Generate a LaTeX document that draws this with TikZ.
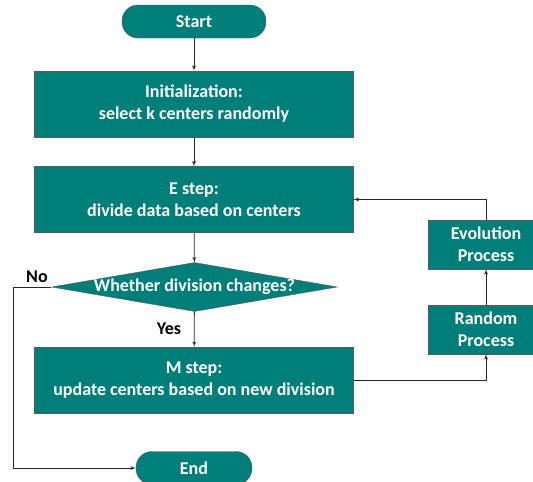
\documentclass[tikz,border=0pt]{standalone}
\usepackage{fontspec}
\setmainfont{Carlito}
\usepackage{tikz}
\usetikzlibrary{arrows, shapes.geometric, positioning}
\definecolor{flowteal}{HTML}{007F7A}

\begin{document}
\begin{tikzpicture}[x=1pt,y=-1pt,inner sep=0pt,>=latex',
  every node/.style={font=\bfseries\fontsize{18}{22}\selectfont},
  box/.style={draw=black!65,fill=flowteal,text=white,align=center,minimum width=319pt,minimum height=66pt},
  side/.style={box,minimum width=116pt,minimum height=49pt},
  term/.style={box,rounded corners=16pt,minimum height=33pt},
  cond/.style={draw=black!65,fill=flowteal,text=white,diamond,aspect=5.8,inner ysep=-3pt,minimum width=286pt,minimum height=49pt},
  line/.style={draw=black!85,line width=.8pt}]
\useasboundingbox (0,0) rectangle (533,482);
\draw node [term,minimum width=144pt] (start) at (194,21.5) {Start};
\draw node [box] (init) at (194,104) {Initialization:\\select k centers randomly};
\draw node [box] (estep) at (194,199.5) {E step:\\divide data based on centers};
\draw node [cond] (chg) at (194.5,287) {Whether division changes?};
\draw node [box] (mstep) at (194,380) {M step:\\update centers based on new division};
\draw node [term,minimum width=116pt] (end) at (194,468) {End};
\draw node [side] (evo) at (486,244.5) {Evolution\\Process};
\draw node [side] (rand) at (486,329.5) {Random\\Process};
\draw node (no) at (37,277) {No};
\draw node (yes) at (169,328.5) {Yes};
\coordinate (noturn) at (13.6,287);
\draw [line,->] (start) -- (init);
\draw [line,->] (init) -- (estep);
\draw [line,->] (estep) -- (chg);
\draw [line,->] (chg) -- (mstep);
\draw [line,->] (mstep.east) -| (rand.south);
\draw [line,->] (rand) -- (evo);
\draw [line,->] (evo.north) |- (estep.east);
\draw [line,->] (chg.west) -- (noturn) |- (end.west);
\end{tikzpicture}
\end{document}
